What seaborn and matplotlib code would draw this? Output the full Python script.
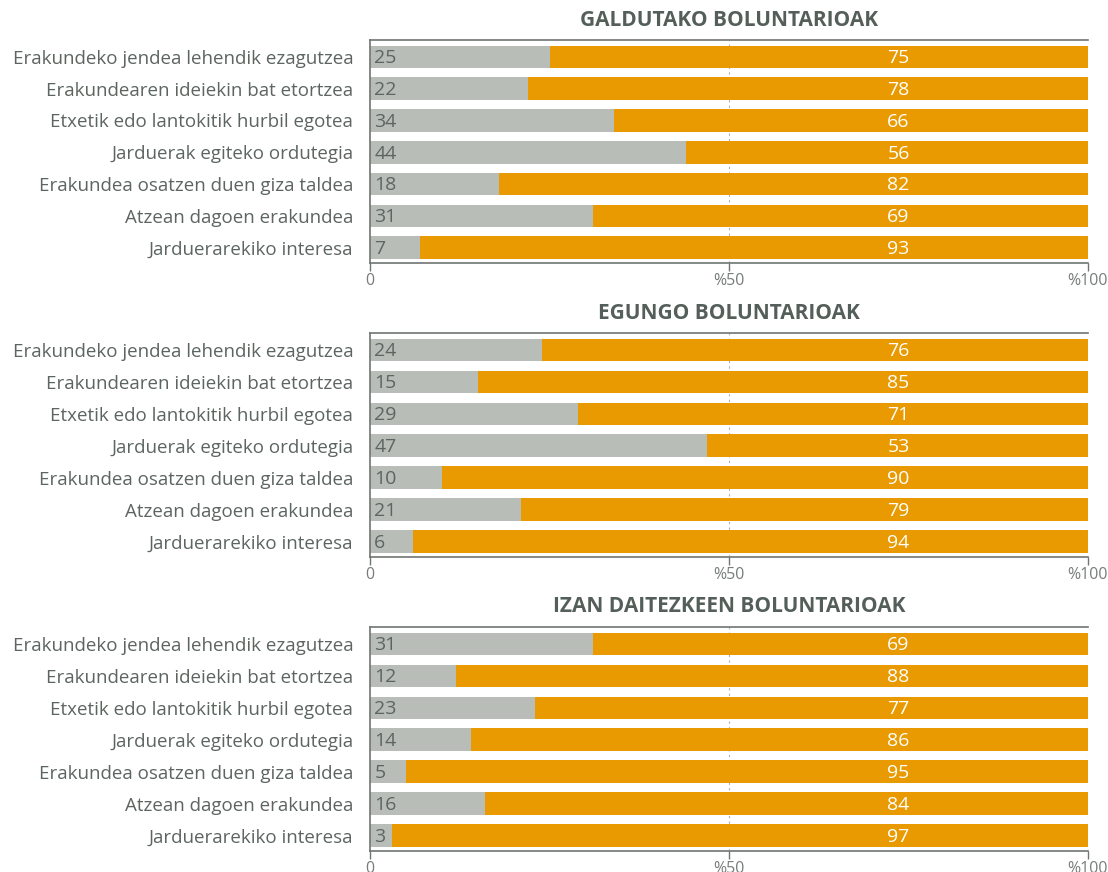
import matplotlib
matplotlib.use("Agg")
import matplotlib.pyplot as plt
import seaborn as sns
import pandas as pd

# Reasons for volunteering, shared by all three groups
reasons = [
    "Erakundeko jendea lehendik ezagutzea",
    "Erakundearen ideiekin bat etortzea",
    "Etxetik edo lantokitik hurbil egotea",
    "Jarduerak egiteko ordutegia",
    "Erakundea osatzen duen giza taldea",
    "Atzean dagoen erakundea",
    "Jarduerarekiko interesa",
]

titles = ["GALDUTAKO BOLUNTARIOAK", "EGUNGO BOLUNTARIOAK", "IZAN DAITEZKEEN BOLUNTARIOAK"]

# Share (%) for each group: gray part and orange part
lost_gray = [25, 22, 34, 44, 18, 31, 7]
lost_orange = [75, 78, 66, 56, 82, 69, 93]
current_gray = [24, 15, 29, 47, 10, 21, 6]
current_orange = [76, 85, 71, 53, 90, 79, 94]
potential_gray = [31, 12, 23, 14, 5, 16, 3]
potential_orange = [69, 88, 77, 86, 95, 84, 97]

tick_values = [0, 50, 100]
tick_labels = ["0", "%50", "%100"]

groups = [
    (lost_gray, lost_orange),
    (current_gray, current_orange),
    (potential_gray, potential_orange),
]

GRAY = "#b9bdb8"
ORANGE = "#e89a00"
TEXT = "#5c6560"
SPINE = "#6f7672"

sns.set_theme(style="white")
plt.rcParams["font.family"] = ["Open Sans", "DejaVu Sans"]

fig = plt.figure(figsize=(11.08, 8.72), dpi=100)

left, width = 370 / 1108, 718 / 1108
panel_px = [(40, 263), (333, 557), (627, 851)]
title_px = [20, 313, 606]

for (gray_vals, orange_vals), title, (top, bot), ty in zip(groups, titles, panel_px, title_px):
    ax = fig.add_axes([left, 1 - bot / 872, width, (bot - top) / 872])
    df = pd.DataFrame({
        "reason": reasons,
        "gray": gray_vals,
        "orange": orange_vals,
    })
    df["total"] = df["gray"] + df["orange"]

    sns.barplot(data=df, y="reason", x="total", color=ORANGE, saturation=1,
                width=0.71, orient="h", ax=ax, linewidth=0)
    sns.barplot(data=df, y="reason", x="gray", color=GRAY, saturation=1,
                width=0.71, orient="h", ax=ax, linewidth=0)

    for i, (g, o) in enumerate(zip(gray_vals, orange_vals)):
        ax.text(0.6, i + 0.04, str(g), ha="left", va="center", fontsize=14,
                color=TEXT)
        ax.text(73.6, i + 0.04, str(o), ha="center", va="center", fontsize=14,
                color="white")

    ax.set_xlim(0, 100)
    ax.set_ylim(6.48, -0.53)
    ax.set_xlabel("")
    ax.set_ylabel("")

    for x in (50, 100):
        ax.axvline(x, color="#aab0ac", lw=0.8, ls=(0, (2, 3)), zorder=0.5)

    ax.set_xticks(tick_values)
    ax.set_xticklabels(tick_labels, fontsize=11.5, color="#777d79")
    ax.tick_params(axis="x", bottom=True, length=6, width=1, color=SPINE, pad=1)
    ax.tick_params(axis="y", left=False, labelsize=13.5, labelcolor=TEXT, pad=6)

    for side in ("left", "bottom", "top"):
        ax.spines[side].set_visible(True)
        ax.spines[side].set_color(SPINE)
        ax.spines[side].set_linewidth(1.2)
    ax.spines["right"].set_visible(False)

    ax.text(left + width / 2, 1 - ty / 872, title, transform=fig.transFigure,
            ha="center", va="center", fontsize=15, fontweight="bold",
            color="#555f5a")

fig.savefig("out.png", dpi=100)
